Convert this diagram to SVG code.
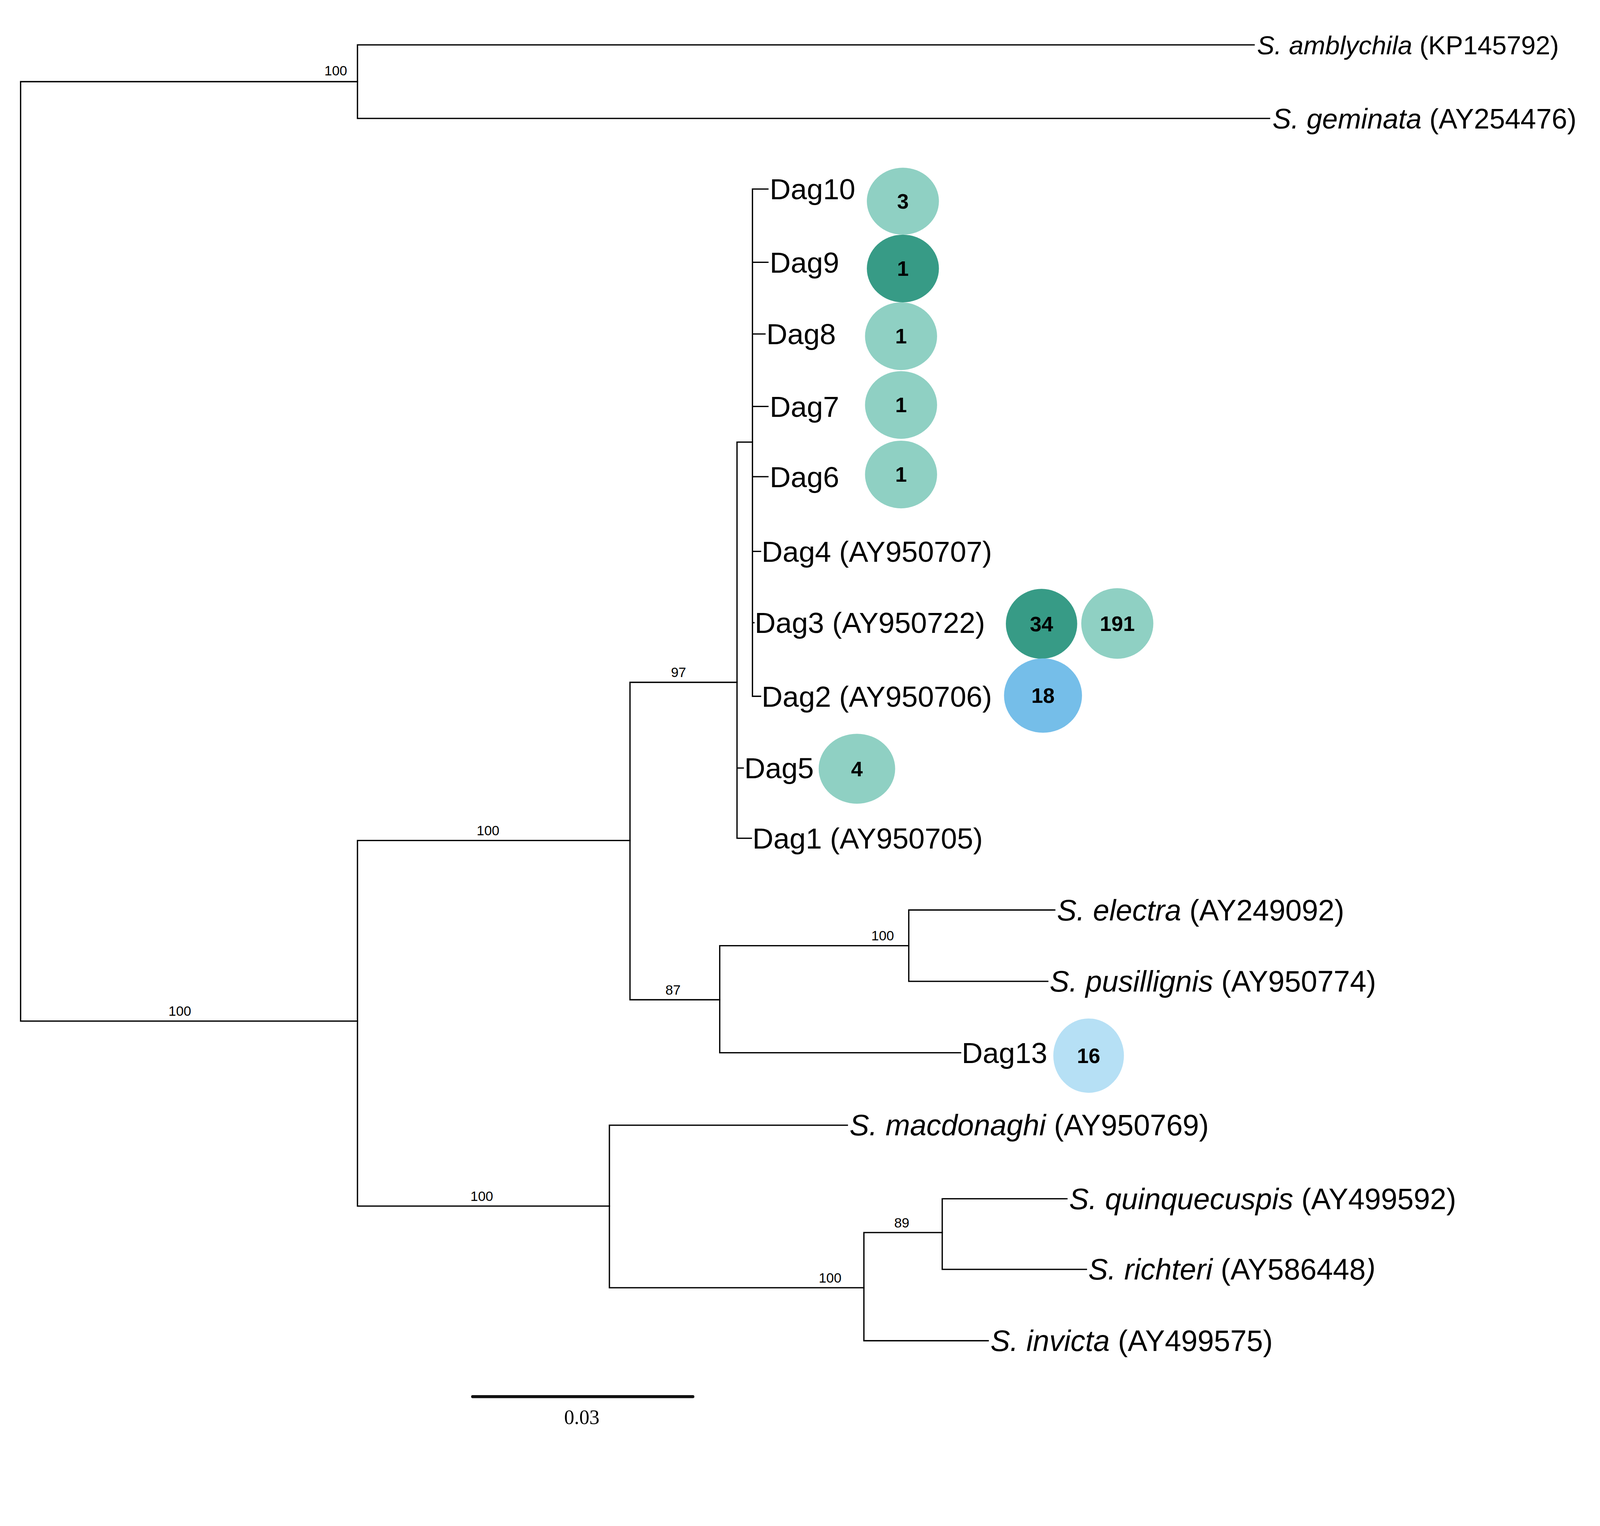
<svg xmlns="http://www.w3.org/2000/svg" width="4331" height="3906" viewBox="0 0 4331 3906">
<style>
.br{stroke:#000;stroke-width:3.5;fill:none;stroke-linecap:square}
.t{font-family:"Liberation Sans",Arial,sans-serif;font-size:79px;fill:#000}
.s{font-size:80px}
.i{font-style:italic}
.bs{font-family:"Liberation Sans",Arial,sans-serif;font-size:37px;fill:#000;text-anchor:middle}
.n{font-family:"Liberation Sans",Arial,sans-serif;font-size:57px;font-weight:bold;fill:#000;text-anchor:middle}
.lt{fill:#8fd0c3}.dk{fill:#379b86}.bl{fill:#75bee9}.pb{fill:#b6e0f5}
</style>
<rect width="4331" height="3906" fill="#fff"/>
<g transform="scale(0.9415)">
<g id="connectors">
<path class="br" d="M972 222 H56 V2776 H972"/>
<path class="br" d="M3410 122 H972 V322 H3452"/>
<path class="br" d="M1713 2285 H972 V3279 H1657"/>
<path class="br" d="M2004 1855 H1713 V2718 H1957"/>
<path class="br" d="M2046 1202 H2004 V2279 H2043 M2004 2088 H2021"/>
<path class="br" d="M2088 514 H2046 V1893 H2068 M2046 713 H2088 M2046 908 H2080 M2046 1105 H2088 M2046 1296 H2088 M2046 1499 H2068 M2046 1693 H2050"/>
<path class="br" d="M2471 2571 H1957 V2862 H2612"/>
<path class="br" d="M2868 2474 H2471 V2668 H2849"/>
<path class="br" d="M2304 3059 H1657 V3501 H2349"/>
<path class="br" d="M2562 3351 H2349 V3645 H2687"/>
<path class="br" d="M2901 3259 H2562 V3451 H2954"/>
</g>
<g id="bootstrap">
<text class="bs" x="913" y="205">100</text>
<text class="bs" x="489" y="2762">100</text>
<text class="bs" x="1327" y="2271">100</text>
<text class="bs" x="1845" y="1841">97</text>
<text class="bs" x="1830" y="2704">87</text>
<text class="bs" x="2400" y="2557">100</text>
<text class="bs" x="1310" y="3265">100</text>
<text class="bs" x="2257" y="3487">100</text>
<text class="bs" x="2452" y="3337">89</text>
</g>
<g id="leaf-amblychila"><text class="t" style="font-size:71px" x="3418" y="148"><tspan class="i">S. amblychila</tspan> (KP145792)</text></g>
<g id="leaf-geminata"><text class="t" style="font-size:76px" x="3460" y="349"><tspan class="i">S. geminata</tspan> (AY254476)</text></g>
<g id="leaf-dag10"><text class="t" x="2093" y="542">Dag10</text><ellipse class="lt" cx="2455" cy="547" rx="98" ry="91"/><text class="n" x="2455" y="567">3</text></g>
<g id="leaf-dag9"><text class="t" x="2093" y="741">Dag9</text><ellipse class="dk" cx="2455" cy="730" rx="98" ry="92"/><text class="n" x="2455" y="750">1</text></g>
<g id="leaf-dag8"><text class="t" x="2084" y="936">Dag8</text><ellipse class="lt" cx="2450" cy="914" rx="98" ry="92"/><text class="n" x="2450" y="934">1</text></g>
<g id="leaf-dag7"><text class="t" x="2093" y="1133">Dag7</text><ellipse class="lt" cx="2450" cy="1101" rx="98" ry="92"/><text class="n" x="2450" y="1121">1</text></g>
<g id="leaf-dag6"><text class="t" x="2093" y="1324">Dag6</text><ellipse class="lt" cx="2450" cy="1290" rx="98" ry="92"/><text class="n" x="2450" y="1310">1</text></g>
<g id="leaf-dag4"><text class="t" x="2071" y="1527">Dag4 (AY950707)</text></g>
<g id="leaf-dag3"><text class="t" x="2052" y="1721">Dag3 (AY950722)</text><ellipse class="dk" cx="2832" cy="1696" rx="97" ry="95"/><text class="n" x="2832" y="1716">34</text><ellipse class="lt" cx="3038" cy="1695" rx="98" ry="96"/><text class="n" x="3038" y="1715">191</text></g>
<g id="leaf-dag2"><text class="t" x="2071" y="1921">Dag2 (AY950706)</text><ellipse class="bl" cx="2836" cy="1891" rx="106" ry="101"/><text class="n" x="2836" y="1911">18</text></g>
<g id="leaf-dag5"><text class="t" x="2024" y="2116">Dag5</text><ellipse class="lt" cx="2330" cy="2090" rx="104" ry="95"/><text class="n" x="2330" y="2110">4</text></g>
<g id="leaf-dag1"><text class="t" x="2046" y="2307">Dag1 (AY950705)</text></g>
<g id="leaf-electra"><text class="t s" x="2874" y="2502"><tspan class="i">S. electra</tspan> (AY249092)</text></g>
<g id="leaf-pusillignis"><text class="t s" x="2854" y="2696"><tspan class="i">S. pusillignis</tspan> (AY950774)</text></g>
<g id="leaf-dag13"><text class="t" x="2615" y="2890">Dag13</text><ellipse class="pb" cx="2960" cy="2870" rx="96" ry="101"/><text class="n" x="2960" y="2890">16</text></g>
<g id="leaf-macdonaghi"><text class="t s" x="2310" y="3087"><tspan class="i">S. macdonaghi</tspan> (AY950769)</text></g>
<g id="leaf-quinquecuspis"><text class="t s" x="2907" y="3287"><tspan class="i">S. quinquecuspis</tspan> (AY499592)</text></g>
<g id="leaf-richteri"><text class="t s" x="2959" y="3479"><tspan class="i">S. richteri</tspan> (AY586448<tspan class="i">)</tspan></text></g>
<g id="leaf-invicta"><text class="t s" x="2693" y="3673"><tspan class="i">S. invicta</tspan> (AY499575)</text></g>
<g id="scale-bar">
<line x1="1285" y1="3797" x2="1884" y2="3797" stroke="#111" stroke-width="8" stroke-linecap="round"/>
<text x="1582" y="3872" style="font-family:'Liberation Serif','Times New Roman',serif;font-size:55px;text-anchor:middle">0.03</text>
</g>
</g>
</svg>
